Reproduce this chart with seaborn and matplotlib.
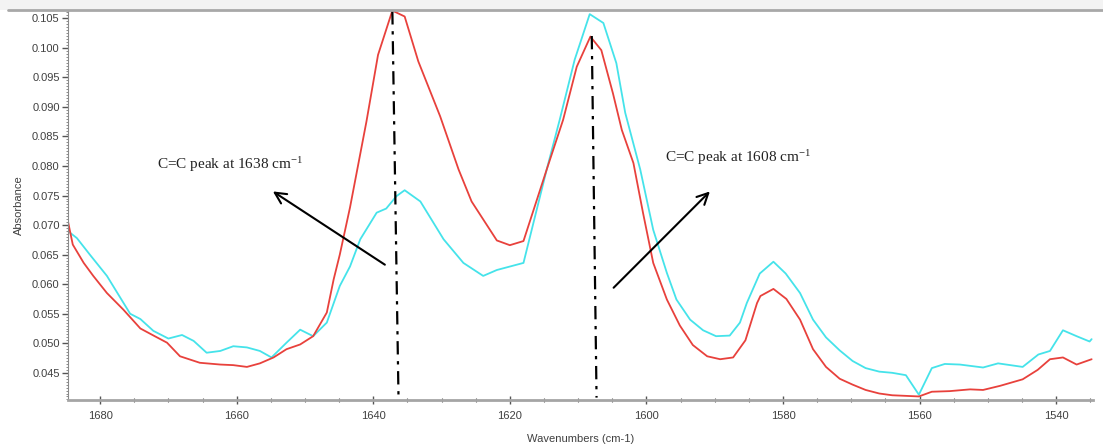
import matplotlib
matplotlib.use("Agg")
import matplotlib.pyplot as plt
import pandas as pd
import seaborn as sns
from matplotlib.ticker import MultipleLocator, FixedLocator
from matplotlib.lines import Line2D
from matplotlib.patches import Rectangle

# ---------------- data ----------------
red_wn = [1684.7, 1684.0, 1682.4, 1681.0, 1679.0, 1676.6, 1674.1, 1672.0, 1670.2, 1668.3,
          1665.4, 1662.4, 1660.5, 1658.5, 1656.6, 1654.6, 1652.7, 1650.7, 1648.8, 1646.8,
          1645.8, 1644.9, 1643.4, 1641.0, 1639.3, 1637.2, 1635.4, 1633.4, 1630.2, 1627.5,
          1625.6, 1621.9, 1620.0, 1618.0, 1614.6, 1612.2, 1610.2, 1608.2, 1606.6, 1604.9,
          1603.6, 1601.9, 1600.5, 1599.0, 1597.0, 1595.1, 1593.2, 1591.1, 1589.2, 1587.3,
          1585.5, 1583.8, 1583.3, 1581.4, 1579.5, 1577.5, 1575.6, 1573.7, 1571.7, 1569.8,
          1567.9, 1565.9, 1564.0, 1562.0, 1560.1, 1558.2, 1555.6, 1552.6, 1550.7, 1548.2,
          1544.9, 1542.7, 1540.9, 1539.0, 1537.0, 1534.8]
red_abs = [0.0706, 0.0667, 0.0636, 0.0614, 0.0585, 0.0557, 0.0525, 0.0512, 0.0501, 0.0478,
           0.0467, 0.0464, 0.0463, 0.0460, 0.0466, 0.0476, 0.0490, 0.0498, 0.0512, 0.0552,
           0.0608, 0.0650, 0.0730, 0.0875, 0.0988, 0.1063, 0.1053, 0.0977, 0.0884, 0.0794,
           0.0740, 0.0674, 0.0666, 0.0673, 0.0794, 0.0878, 0.0968, 0.1019, 0.0996, 0.0923,
           0.0861, 0.0805, 0.0721, 0.0636, 0.0574, 0.0530, 0.0497, 0.0478, 0.0473, 0.0476,
           0.0505, 0.0568, 0.0580, 0.0592, 0.0575, 0.0540, 0.0490, 0.0460, 0.0440, 0.0430,
           0.0421, 0.0415, 0.0412, 0.0411, 0.0410, 0.0418, 0.0419, 0.0422, 0.0421, 0.0428,
           0.0439, 0.0455, 0.0473, 0.0476, 0.0464, 0.0473]

cyan_wn = [1684.5, 1683.4, 1681.5, 1679.0, 1675.6, 1674.1, 1672.2, 1670.0, 1668.0, 1666.3,
           1664.4, 1662.4, 1660.5, 1658.5, 1656.6, 1654.9, 1652.7, 1650.7, 1648.8, 1646.8,
           1644.9, 1643.4, 1641.9, 1639.5, 1638.1, 1636.6, 1635.4, 1633.1, 1629.7, 1626.8,
           1623.9, 1621.9, 1618.0, 1614.6, 1612.7, 1610.5, 1608.3, 1606.3, 1604.4, 1603.1,
           1600.9, 1599.0, 1597.0, 1595.6, 1593.6, 1591.7, 1589.8, 1587.8, 1586.3, 1585.3,
           1583.4, 1581.4, 1579.6, 1577.5, 1575.6, 1573.7, 1571.7, 1569.8, 1567.9, 1565.9,
           1564.0, 1562.0, 1560.1, 1558.2, 1556.3, 1554.1, 1550.7, 1548.5, 1544.9, 1542.6,
           1540.9, 1539.0, 1537.0, 1535.1, 1534.8]
cyan_abs = [0.0688, 0.0678, 0.0650, 0.0614, 0.0550, 0.0541, 0.0521, 0.0508, 0.0514, 0.0504,
            0.0484, 0.0487, 0.0495, 0.0493, 0.0487, 0.0476, 0.0501, 0.0523, 0.0512, 0.0535,
            0.0597, 0.0630, 0.0676, 0.0721, 0.0728, 0.0749, 0.0759, 0.0740, 0.0676, 0.0636,
            0.0614, 0.0624, 0.0636, 0.0794, 0.0878, 0.0980, 0.1057, 0.1042, 0.0974, 0.0890,
            0.0794, 0.0692, 0.0619, 0.0574, 0.0540, 0.0522, 0.0512, 0.0513, 0.0535, 0.0568,
            0.0618, 0.0638, 0.0618, 0.0585, 0.0540, 0.0510, 0.0488, 0.0470, 0.0458, 0.0452,
            0.0450, 0.0446, 0.0413, 0.0458, 0.0465, 0.0464, 0.0459, 0.0466, 0.0460, 0.0481,
            0.0487, 0.0522, 0.0512, 0.0503, 0.0507]

x_ticks = [1680, 1660, 1640, 1620, 1600, 1580, 1560, 1540]
y_ticks = [0.045, 0.050, 0.055, 0.060, 0.065, 0.070, 0.075, 0.080, 0.085, 0.090,
           0.095, 0.100, 0.105]
y_tick_labels = [f"{v:.3f}" for v in y_ticks]

x_label = "Wavenumbers (cm-1)"
y_label = "Absorbance"

peak_texts = ["C=C peak at 1638 cm$^{-1}$", "C=C peak at 1608 cm$^{-1}$"]
text_pos = [(1671.7, 0.0802), (1597.3, 0.0814)]
# dash-dot peak markers: (wn_top, abs_top, wn_bottom, abs_bottom)
peak_lines = [(1637.2, 0.1062, 1636.3, 0.0408), (1608.0, 0.1020, 1607.3, 0.0408)]
# arrows: (tail_wn, tail_abs, head_wn, head_abs)
arrows = [(1638.3, 0.0633, 1654.7, 0.0757), (1604.8, 0.0594, 1590.7, 0.0757)]

# ---------------- plotting ----------------
sns.set_theme(style="white")
plt.rcParams["font.family"] = ["Liberation Sans", "DejaVu Sans"]
plt.rcParams["mathtext.fontset"] = "custom"
plt.rcParams["mathtext.rm"] = "Liberation Serif"
plt.rcParams["mathtext.it"] = "Liberation Serif:italic"
plt.rcParams["mathtext.bf"] = "Liberation Serif:bold"

df = pd.concat([
    pd.DataFrame({"wn": cyan_wn, "abs": cyan_abs, "series": "cyan"}),
    pd.DataFrame({"wn": red_wn, "abs": red_abs, "series": "red"}),
], ignore_index=True)

fig = plt.figure(figsize=(11.03, 4.46), dpi=100)
fig.patch.set_facecolor("white")
ax = fig.add_axes([68 / 1103, 1 - 400 / 446, (1093 - 68) / 1103, 390 / 446])

sns.lineplot(data=df, x="wn", y="abs", hue="series",
             palette={"cyan": "#45e3ea", "red": "#e8413c"},
             hue_order=["cyan", "red"], estimator=None, sort=False,
             linewidth=1.3, legend=False, ax=ax)

ax.set_xlim(1684.7, 1534.6)
ax.set_ylim(0.0404, 0.1064)

ax.xaxis.set_major_locator(FixedLocator(x_ticks))
ax.xaxis.set_minor_locator(MultipleLocator(5))
ax.set_yticks(y_ticks)
ax.set_yticklabels(y_tick_labels)
ax.yaxis.set_minor_locator(MultipleLocator(0.0005))

ax.tick_params(axis="x", which="major", direction="inout", length=6, width=1,
               color="#555555", labelsize=8, labelcolor="#404040", pad=5)
ax.tick_params(axis="x", which="minor", direction="inout", length=3, width=0.8,
               color="#555555")
ax.tick_params(axis="y", which="major", direction="out", length=4, width=1,
               color="#555555", labelsize=8, labelcolor="#404040", pad=2)
ax.tick_params(axis="y", which="minor", direction="out", length=1.5, width=0.6,
               color="#777777")
ax.xaxis.set_ticks_position("bottom")
ax.yaxis.set_ticks_position("left")

for s in ("top", "right"):
    ax.spines[s].set_visible(False)
ax.spines["left"].set_color("#8a8a8a")
ax.spines["left"].set_linewidth(0.8)
ax.spines["bottom"].set_color("#a5a5a5")
ax.spines["bottom"].set_linewidth(2)

ax.set_xlabel(x_label, fontsize=8, color="#404040", labelpad=9)
ax.set_ylabel(y_label, fontsize=8, color="#404040", labelpad=6)

# peak marker lines
for (x0, y0, x1, y1) in peak_lines:
    ax.plot([x0, x1], [y0, y1], color="black", linewidth=1.6,
            linestyle=(0, (6, 3, 1.5, 3)), zorder=5)

# arrows
for (xt, yt, xh, yh) in arrows:
    ax.annotate("", xy=(xh, yh), xytext=(xt, yt),
                arrowprops=dict(arrowstyle="->", color="black", lw=1.5,
                                mutation_scale=20, shrinkA=0, shrinkB=0),
                zorder=6)

for txt, (tx, ty) in zip(peak_texts, text_pos):
    ax.text(tx, ty, txt, fontsize=11, family="Liberation Serif", color="#222222",
            ha="left", va="center", zorder=7)

# top frame strip
fig.patches.append(Rectangle((0, 1 - 10 / 446), 1, 10 / 446, transform=fig.transFigure,
                             facecolor="#f3f3f3", edgecolor="none", zorder=0))
fig.lines.append(Line2D([8 / 1103, 1], [1 - 10 / 446, 1 - 10 / 446],
                        transform=fig.transFigure, color="#a8a8a8", linewidth=2))

fig.savefig("out.png", dpi=100, facecolor="white")
